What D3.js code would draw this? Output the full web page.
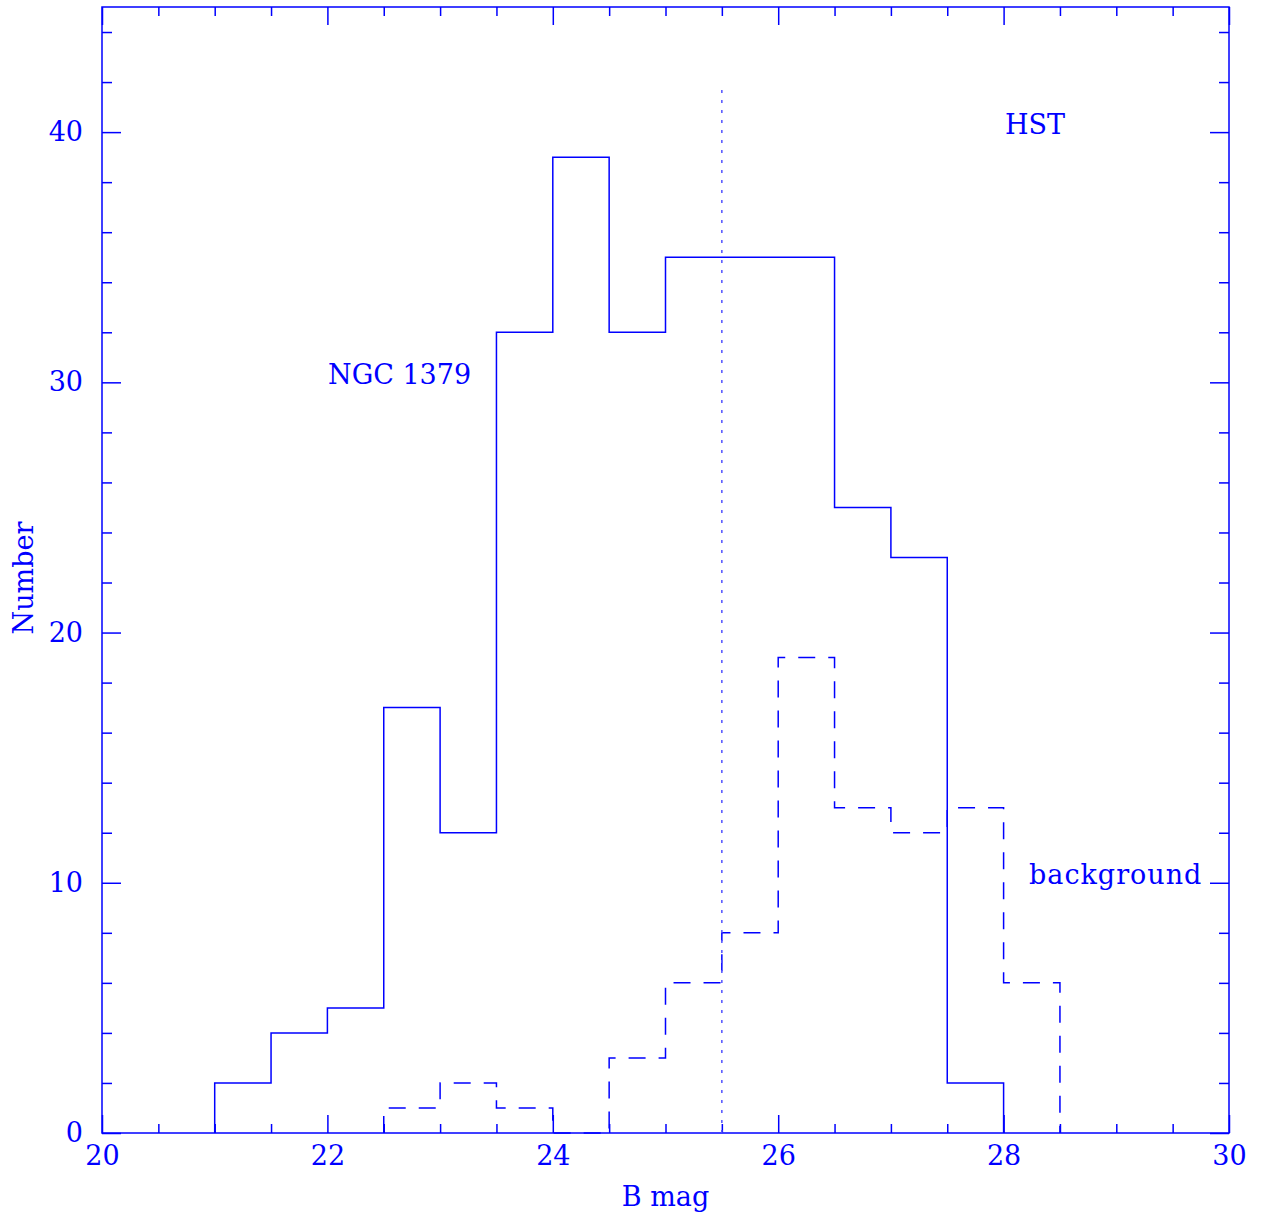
<!DOCTYPE html>
<html>
<head>
<meta charset="utf-8">
<script src="https://cdn.jsdelivr.net/npm/d3@7"></script>
<style>
  html, body { margin: 0; padding: 0; background: #fff; }
  text { font-family: "DejaVu Serif", "Liberation Serif", serif; fill: #0000ff; }
</style>
</head>
<body>
<svg id="chart" width="1267" height="1220"></svg>
<script>
// Histogram bins of 0.5 mag: left edge of each bin and the count in it
const clusterEdges  = [21, 21.5, 22, 22.5, 23, 23.5, 24, 24.5, 25, 25.5, 26, 26.5, 27, 27.5];
const clusterCounts = [2, 4, 5, 17, 12, 32, 39, 32, 35, 35, 35, 25, 23, 2];
const backgroundEdges  = [22.5, 23, 23.5, 24, 24.5, 25, 25.5, 26, 26.5, 27, 27.5, 28];
const backgroundCounts = [1, 2, 1, 0, 3, 6, 8, 19, 13, 12, 13, 6];
const binWidth = 0.5;

// Completeness limit marked by the dotted line
const limitMag = 25.5;
const limitTop = 41.8;

const xMajorTicks = [20, 22, 24, 26, 28, 30];
const yMajorTicks = [0, 10, 20, 30, 40];

const blue = "#0000ff";
const fontStack = '"DejaVu Serif", "Liberation Serif", serif';
const fontSize = "27px";
const svg = d3.select("#chart");
const plotLeft = 102, plotRight = 1229, plotTop = 7, plotBottom = 1133;

const x = d3.scaleLinear().domain([20, 30]).range([plotLeft, plotRight]);
const y = d3.scaleLinear().domain([0, 45]).range([plotBottom, plotTop]);

const xMinor = d3.range(20, 30.001, 0.5).filter(v => !xMajorTicks.includes(v));
const yMinor = d3.range(0, 45.001, 2).filter(v => !yMajorTicks.includes(v));

function styleAxis(g) {
  g.select(".domain").remove();
  g.selectAll(".tick line").attr("stroke", blue).attr("stroke-width", 1.5);
  g.selectAll(".tick text")
    .attr("fill", blue)
    .style("font-family", fontStack)
    .style("font-size", fontSize);
}

// Bottom axis: inward ticks with labels
svg.append("g").attr("transform", `translate(0,${plotBottom})`)
  .call(d3.axisBottom(x).tickValues(xMajorTicks).tickFormat(d3.format("d"))
    .tickSizeInner(-18).tickSizeOuter(0).tickPadding(13))
  .call(styleAxis);
svg.append("g").attr("transform", `translate(0,${plotBottom})`)
  .call(d3.axisBottom(x).tickValues(xMinor).tickFormat("").tickSizeInner(-9).tickSizeOuter(0))
  .call(styleAxis);

// Top axis: inward ticks only
svg.append("g").attr("transform", `translate(0,${plotTop})`)
  .call(d3.axisTop(x).tickValues(xMajorTicks).tickFormat("").tickSizeInner(-18).tickSizeOuter(0))
  .call(styleAxis);
svg.append("g").attr("transform", `translate(0,${plotTop})`)
  .call(d3.axisTop(x).tickValues(xMinor).tickFormat("").tickSizeInner(-9).tickSizeOuter(0))
  .call(styleAxis);

// Left axis with labels
svg.append("g").attr("transform", `translate(${plotLeft},0)`)
  .call(d3.axisLeft(y).tickValues(yMajorTicks).tickFormat(d3.format("d"))
    .tickSizeInner(-19).tickSizeOuter(0).tickPadding(19))
  .call(styleAxis);
svg.append("g").attr("transform", `translate(${plotLeft},0)`)
  .call(d3.axisLeft(y).tickValues(yMinor).tickFormat("").tickSizeInner(-10).tickSizeOuter(0))
  .call(styleAxis);

// Right axis: ticks only
svg.append("g").attr("transform", `translate(${plotRight},0)`)
  .call(d3.axisRight(y).tickValues(yMajorTicks).tickFormat("").tickSizeInner(-19).tickSizeOuter(0))
  .call(styleAxis);
svg.append("g").attr("transform", `translate(${plotRight},0)`)
  .call(d3.axisRight(y).tickValues(yMinor).tickFormat("").tickSizeInner(-10).tickSizeOuter(0))
  .call(styleAxis);

// Frame
svg.append("rect")
  .attr("x", plotLeft).attr("y", plotTop)
  .attr("width", plotRight - plotLeft).attr("height", plotBottom - plotTop)
  .attr("fill", "none").attr("stroke", blue).attr("stroke-width", 1.5);

// Step outline of a histogram
function stepPoints(edges, counts) {
  const pts = [[edges[0], 0]];
  edges.forEach((e, i) => pts.push([e, counts[i]]));
  pts.push([edges[edges.length - 1] + binWidth, 0]);
  return pts;
}
const step = d3.line().x(d => x(d[0])).y(d => y(d[1])).curve(d3.curveStepAfter);

svg.append("path")
  .attr("d", step(stepPoints(clusterEdges, clusterCounts)))
  .attr("fill", "none").attr("stroke", blue).attr("stroke-width", 1.5);

svg.append("path")
  .attr("d", step(stepPoints(backgroundEdges, backgroundCounts)))
  .attr("fill", "none").attr("stroke", blue).attr("stroke-width", 1.5)
  .attr("stroke-dasharray", "17,13");

// Dotted limit line
svg.append("line")
  .attr("x1", x(limitMag)).attr("x2", x(limitMag))
  .attr("y1", y(0)).attr("y2", y(limitTop))
  .attr("stroke", "#5050ff").attr("stroke-width", 1.5)
  .attr("stroke-dasharray", "3,7");

// Annotations
const ann = svg.append("g").style("font-size", fontSize).style("font-family", fontStack);
ann.append("text").attr("x", 328).attr("y", 384).text("NGC 1379");
ann.append("text").attr("x", 1005).attr("y", 134).text("HST");
ann.append("text").attr("x", 1029).attr("y", 884).style("letter-spacing", "1px").text("background");

// Axis titles
svg.append("text")
  .attr("x", (plotLeft + plotRight) / 2).attr("y", 1206)
  .attr("text-anchor", "middle")
  .style("font-size", fontSize).style("font-family", fontStack)
  .text("B mag");
svg.append("text")
  .attr("transform", "translate(33,578) rotate(-90)")
  .attr("text-anchor", "middle")
  .style("font-size", fontSize).style("font-family", fontStack)
  .text("Number");
</script>
</body>
</html>
